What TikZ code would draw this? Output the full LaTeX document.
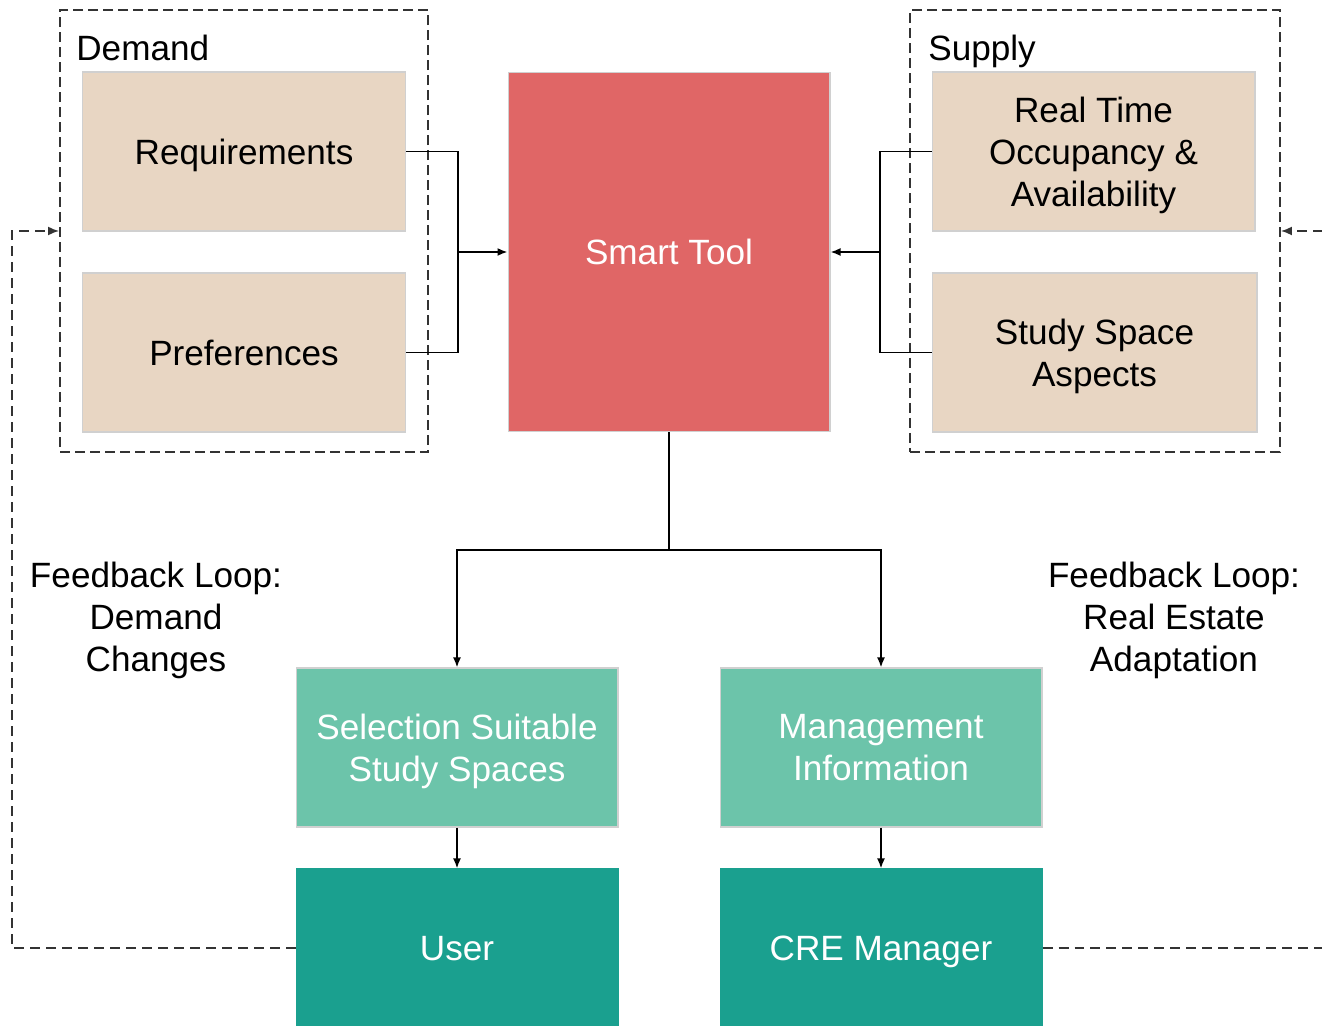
\documentclass[tikz,border=0pt]{standalone}
\usepackage{fontspec}
\setmainfont{Liberation Sans}
\usetikzlibrary{arrows.meta}
\definecolor{beige}{HTML}{E8D6C3}
\definecolor{toolred}{HTML}{E06666}
\definecolor{lightteal}{HTML}{6CC4AA}
\definecolor{darkteal}{HTML}{1AA08F}
\definecolor{edge}{HTML}{D0D0D0}
\definecolor{dashgrey}{HTML}{333333}
% a line whose descenders do not count for vertical centring
\newcommand\nodepth[1]{\raisebox{0pt}[\height][0pt]{#1}}
\tikzset{
  every node/.style={font=\fontsize{20}{24}\selectfont, align=center, inner sep=0pt},
  box/.style={rectangle, draw=edge, line width=0.6pt, minimum width=6.46cm, minimum height=3.18cm},
  inbox/.style={box, fill=beige, text=black},
  toolbox/.style={box, fill=toolred, text=white, minimum width=6.44cm, minimum height=7.2cm},
  outbox/.style={box, fill=lightteal, text=white, minimum width=6.44cm},
  actorbox/.style={box, fill=darkteal, draw=darkteal, text=white, minimum width=6.44cm, minimum height=3.16cm},
  groupbox/.style={rectangle, draw=dashgrey, line width=1.1pt, dash pattern=on 0.2cm off 0.1cm, minimum height=8.84cm},
  link/.style={draw=black, line width=1pt},
  arrowlink/.style={link, -{Latex[length=0.2cm, width=0.16cm]}},
  feedback/.style={draw=dashgrey, line width=1pt, dash pattern=on 0.2cm off 0.12cm, -{Latex[length=0.22cm, width=0.18cm]}}
}
\begin{document}
\begin{tikzpicture}[x=0.02cm, y=-0.02cm]
  \useasboundingbox (0,0) rectangle (1322,1026);
  \clip (0,0) rectangle (1322,1026);

  % groups
  \node[groupbox, minimum width=7.36cm] (demand) at (244,231) {};
  \node[groupbox, minimum width=7.4cm] (supply) at (1095,231) {};
  \node[anchor=west] (demandlabel) at (76,48) {\nodepth{Demand}};
  \node[anchor=west] (supplylabel) at (928,48) {\nodepth{Supply}};

  % inputs
  \node[inbox, minimum width=6.48cm] (req) at (244,151.5) {\nodepth{Requirements}};
  \node[inbox, minimum width=6.48cm] (pref) at (244,352.5) {\nodepth{Preferences}};
  \node[inbox] (occ) at (1093.5,151.5) {Real Time\\Occupancy \&\\\nodepth{Availability}};
  \node[inbox, minimum width=6.5cm] (aspects) at (1094.5,352.5) {Study Space\\\nodepth{Aspects}};

  % tool
  \node[toolbox] (tool) at (669,252) {\nodepth{Smart Tool}};

  % outputs
  \node[outbox] (select) at (457,747.5) {Selection Suitable\\\nodepth{Study Spaces}};
  \node[outbox] (mgmt) at (881,747.5) {Management\\\nodepth{Information}};
  \node[actorbox] (user) at (457,948) {\nodepth{User}};
  \node[actorbox] (cre) at (881,948) {\nodepth{CRE Manager}};

  % feedback labels
  \node (fbdemand) at (156,617) {Feedback Loop:\\Demand\\\nodepth{Changes}};
  \node (fbsupply) at (1174,617) {Feedback Loop:\\Real Estate\\\nodepth{Adaptation}};

  % junctions
  \coordinate (ljoin) at (458,252);
  \coordinate (rjoin) at (880,252);
  \coordinate (split) at (669,550);
  \coordinate (lcorner) at (12,231);
  \coordinate (rcorner) at (1360,231);

  % inputs into the tool
  \draw[link] (req.east) -| (ljoin);
  \draw[link] (pref.east) -| (ljoin);
  \draw[arrowlink] (ljoin) -- (tool.west);
  \draw[link] (occ.west) -| (rjoin);
  \draw[link] (aspects.west) -| (rjoin);
  \draw[arrowlink] (rjoin) -- (tool.east);

  % tool outputs
  \draw[link] (tool.south) -- (split);
  \draw[arrowlink] (split) -| (select.north);
  \draw[arrowlink] (split) -| (mgmt.north);
  \draw[arrowlink] (select.south) -- (user.north);
  \draw[arrowlink] (mgmt.south) -- (cre.north);

  % feedback loops
  \draw[feedback] (user.west) -| (lcorner) -- (demand.west);
  \draw[feedback] (cre.east) -| (rcorner) -- (supply.east);
\end{tikzpicture}
\end{document}
